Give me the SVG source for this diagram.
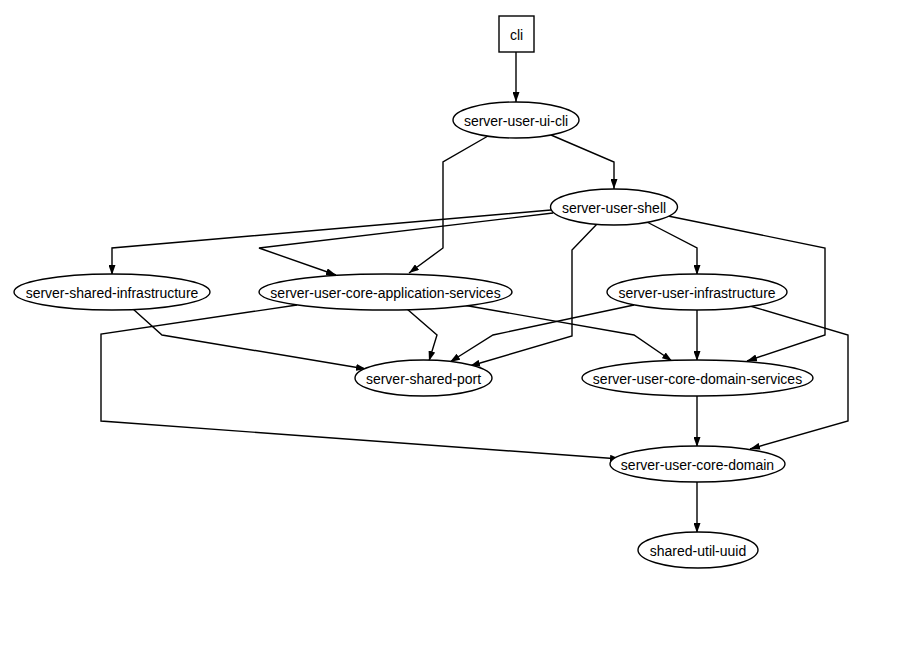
<svg xmlns="http://www.w3.org/2000/svg" width="899" height="656" viewBox="0 0 899 656">
<defs>
<marker id="ah" viewBox="0 0 10 7" refX="10" refY="3.5" markerWidth="10" markerHeight="7" markerUnits="userSpaceOnUse" orient="auto">
<path d="M0,0 L10,3.5 L0,7 z" fill="#000"/>
</marker>
<style>
.n ellipse, .n rect { fill: #fff; stroke: #000; stroke-width: 1.4; }
.n text { font-family: "Liberation Sans", Arial, sans-serif; font-size: 14px; fill: #000; text-anchor: middle; dominant-baseline: central; }
#edges path { fill: none; stroke: #000; stroke-width: 1.4; marker-end: url(#ah); }
</style>
</defs>
<rect width="899" height="656" fill="#fff"/>
<g id="edges">
<path d="M516,52 L516,102"/>
<path d="M488,136 L443,162 L443,248 L409,273"/>
<path d="M551,135 L614,162 L614,189"/>
<path d="M551,210 L112,248 L112,275"/>
<path d="M553,213 L259,248 L336,275"/>
<path d="M597,224 L572,250 L572,336 L470,366"/>
<path d="M645,221 L697,248 L697,275"/>
<path d="M668,216 L825,248 L825,335 L747,361"/>
<path d="M133,309 L162,335 L366,369"/>
<path d="M407,309 L437,335 L429,361"/>
<path d="M297,305 L101,334 L101,421 L620,459"/>
<path d="M463,305 L634,335 L672,361"/>
<path d="M634,305 L493,335 L450,362"/>
<path d="M697,310 L697,361"/>
<path d="M750,306 L848,335 L848,421 L750,449"/>
<path d="M697,396 L697,447"/>
<path d="M697,482 L697,533"/>
</g>
<g id="cli" class="n"><rect x="499" y="16" width="35" height="36"/><text x="516.5" y="35">cli</text></g>
<g id="server-user-ui-cli" class="n"><ellipse cx="516" cy="120" rx="63" ry="18"/><text x="516" y="121">server-user-ui-cli</text></g>
<g id="server-user-shell" class="n"><ellipse cx="614" cy="207" rx="63.5" ry="18"/><text x="614" y="208">server-user-shell</text></g>
<g id="server-shared-infrastructure" class="n"><ellipse cx="112" cy="292" rx="98" ry="18"/><text x="112" y="293">server-shared-infrastructure</text></g>
<g id="server-user-core-application-services" class="n"><ellipse cx="385.5" cy="292" rx="126.5" ry="18"/><text x="385.5" y="293">server-user-core-application-services</text></g>
<g id="server-user-infrastructure" class="n"><ellipse cx="697" cy="292" rx="90" ry="18"/><text x="697" y="293">server-user-infrastructure</text></g>
<g id="server-shared-port" class="n"><ellipse cx="423.5" cy="378" rx="68.5" ry="18"/><text x="423.5" y="379">server-shared-port</text></g>
<g id="server-user-core-domain-services" class="n"><ellipse cx="697.5" cy="378" rx="115.5" ry="18"/><text x="697.5" y="379">server-user-core-domain-services</text></g>
<g id="server-user-core-domain" class="n"><ellipse cx="697.5" cy="464" rx="87.5" ry="18"/><text x="697.5" y="465">server-user-core-domain</text></g>
<g id="shared-util-uuid" class="n"><ellipse cx="698" cy="550" rx="60" ry="18"/><text x="698" y="551">shared-util-uuid</text></g>
</svg>
